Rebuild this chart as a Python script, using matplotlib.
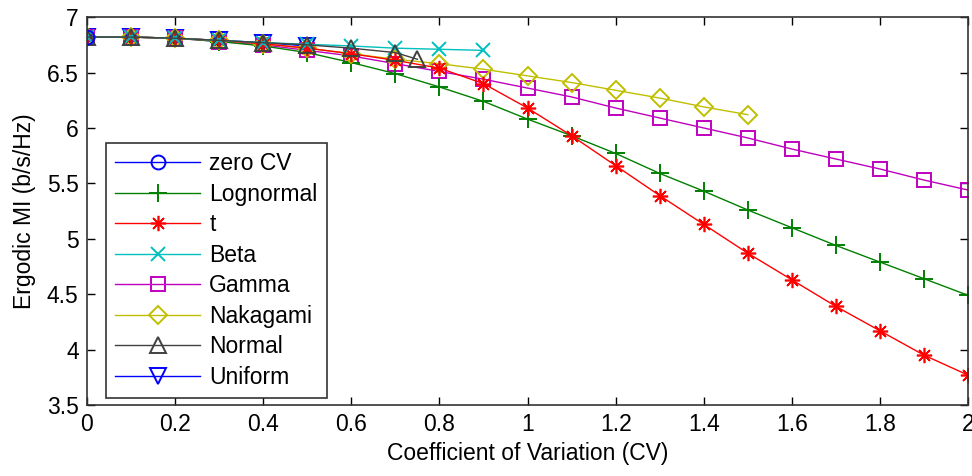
import matplotlib
matplotlib.use("Agg")
import matplotlib.pyplot as plt
import numpy as np

plt.rcParams['font.family'] = ['Liberation Sans', 'DejaVu Sans']

cv_full = [0, 0.1, 0.2, 0.3, 0.4, 0.5, 0.6, 0.7, 0.8, 0.9, 1.0,
           1.1, 1.2, 1.3, 1.4, 1.5, 1.6, 1.7, 1.8, 1.9, 2.0]

zero_x = [0]
zero_y = [6.82]

logn_x = cv_full
logn_y = [6.82, 6.82, 6.81, 6.78, 6.74, 6.68, 6.59, 6.49, 6.37, 6.24, 6.08,
          5.93, 5.77, 5.59, 5.43, 5.26, 5.10, 4.94, 4.79, 4.64, 4.49]

t_x = cv_full
t_y = [6.82, 6.82, 6.81, 6.79, 6.76, 6.72, 6.67, 6.61, 6.54, 6.40, 6.18,
       5.93, 5.66, 5.39, 5.13, 4.87, 4.63, 4.39, 4.17, 3.95, 3.77]

beta_x = [0, 0.1, 0.2, 0.3, 0.4, 0.5, 0.6, 0.7, 0.8, 0.9]
beta_y = [6.82, 6.82, 6.81, 6.79, 6.77, 6.755, 6.74, 6.72, 6.71, 6.70]

gamma_x = cv_full
gamma_y = [6.82, 6.82, 6.81, 6.78, 6.75, 6.70, 6.65, 6.58, 6.51, 6.44, 6.36,
           6.28, 6.18, 6.09, 6.00, 5.91, 5.81, 5.72, 5.63, 5.53, 5.44]

naka_x = [0, 0.1, 0.2, 0.3, 0.4, 0.5, 0.6, 0.7, 0.8, 0.9, 1.0,
          1.1, 1.2, 1.3, 1.4, 1.5]
naka_y = [6.82, 6.82, 6.81, 6.79, 6.76, 6.72, 6.67, 6.62, 6.58, 6.53, 6.47,
          6.41, 6.34, 6.27, 6.19, 6.12]

norm_x = [0, 0.1, 0.2, 0.3, 0.4, 0.5, 0.6, 0.7, 0.75]
norm_y = [6.82, 6.82, 6.81, 6.79, 6.77, 6.75, 6.72, 6.68, 6.62]

unif_x = [0, 0.1, 0.2, 0.3, 0.4, 0.5]
unif_y = [6.82, 6.82, 6.81, 6.79, 6.77, 6.74]

x_ticks = [0, 0.2, 0.4, 0.6, 0.8, 1, 1.2, 1.4, 1.6, 1.8, 2]
x_ticklabels = ['0', '0.2', '0.4', '0.6', '0.8', '1', '1.2', '1.4', '1.6', '1.8', '2']
y_ticks = [3.5, 4, 4.5, 5, 5.5, 6, 6.5, 7]
y_ticklabels = ['3.5', '4', '4.5', '5', '5.5', '6', '6.5', '7']

fig = plt.figure(figsize=(9.72, 4.76), dpi=100)
ax = fig.add_axes([0.0895, 0.149, 0.9065, 0.815])

ms = 10
lw = 1.0
mew = 1.4
# (x, y, label, colour, marker, size, edge width, zorder)
series = [
    (zero_x, zero_y, 'zero CV', (0, 0, 1), 'o', ms, mew, 9),
    (logn_x, logn_y, 'Lognormal', (0, 0.5, 0), '+', ms + 3, mew, 4),
    (t_x, t_y, 't', (1, 0, 0), (8, 2, 0), ms + 1, 1.2, 5),
    (beta_x, beta_y, 'Beta', (0, 0.75, 0.75), 'x', ms, mew, 6),
    (gamma_x, gamma_y, 'Gamma', (0.75, 0, 0.75), 's', ms, mew, 3),
    (naka_x, naka_y, 'Nakagami', (0.75, 0.75, 0), 'D', ms - 1, mew, 4.5),
    (norm_x, norm_y, 'Normal', (0.25, 0.25, 0.25), '^', ms + 1, mew, 7),
    (unif_x, unif_y, 'Uniform', (0, 0, 1), 'v', ms + 1, mew, 2),
]
for x, y, lab, c, m, s, w, z in series:
    ax.plot(x, y, color=c, lw=lw, marker=m, markersize=s,
            markerfacecolor='none', markeredgecolor=c, markeredgewidth=w,
            label=lab, zorder=z)

ax.set_xlim(0, 2)
ax.set_ylim(3.5, 7)
ax.set_xticks(x_ticks)
ax.set_xticklabels(x_ticklabels)
ax.set_yticks(y_ticks)
ax.set_yticklabels(y_ticklabels)
ax.tick_params(direction='in', length=6, width=1, top=True, right=True,
               labelsize=16.5, colors='black', pad=6)
for sp in ax.spines.values():
    sp.set_color((0.2, 0.2, 0.2))
    sp.set_linewidth(1.2)
    sp.set_zorder(10)

ax.set_xlabel('Coefficient of Variation (CV)', fontsize=16.5, labelpad=4)
ax.set_ylabel('Ergodic MI (b/s/Hz)', fontsize=16.5, labelpad=8)

leg = ax.legend(loc='lower left', bbox_to_anchor=(0.0216, 0.018), fontsize=16.5,
                handlelength=3.7, labelspacing=0.33, borderpad=0.4,
                handletextpad=0.4, fancybox=False, framealpha=1,
                edgecolor=(0.2, 0.2, 0.2), borderaxespad=0)
leg.get_frame().set_linewidth(1.2)
leg.set_zorder(20)

fig.savefig('out.png', dpi=100)
